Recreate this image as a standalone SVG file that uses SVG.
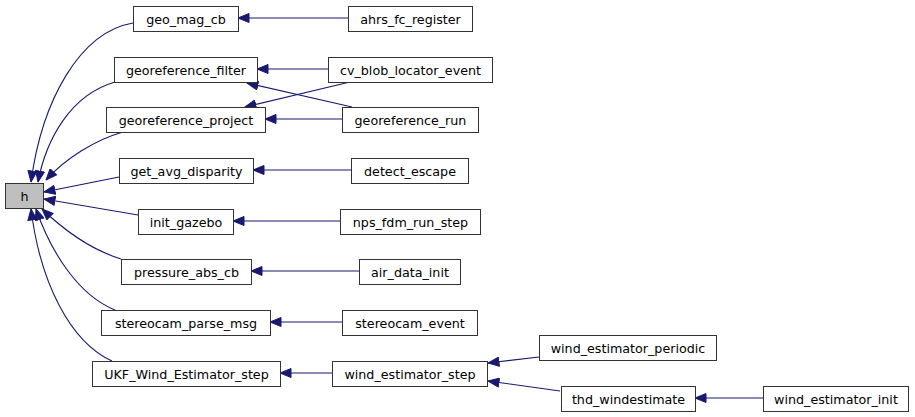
<svg xmlns="http://www.w3.org/2000/svg" width="915" height="417" viewBox="0 0 915 417">
<style>
.n rect{fill:#ffffff;stroke:#333333;stroke-width:1}
.n text{font-family:"DejaVu Sans",sans-serif;font-size:12.7px;text-anchor:middle;fill:#000000}
#edges path{fill:none;stroke:#191970;stroke-width:1.1;marker-end:url(#ah)}
</style>
<defs>
<marker id="ah" viewBox="0 0 12 10" refX="11.5" refY="5" markerWidth="12" markerHeight="10" markerUnits="userSpaceOnUse" orient="auto">
<path d="M0.5,0.5 L11.5,5 L0.5,9.5 Z" fill="#191970" stroke="#191970" stroke-width="1"/>
</marker>
</defs>
<rect width="915" height="417" fill="#ffffff"/>
<g id="edges">
<path d="M133,23 C80,32 42,100 31,182"/>
<path d="M115,82 C70,95 46,140 38,182"/>
<path d="M123,132 C95,140 66,158 46,180"/>
<path d="M119,177 L44,192"/>
<path d="M138,215 L44,199"/>
<path d="M121,259 C92,250 66,232 42,209"/>
<path d="M115,310 C80,296 52,255 36,209"/>
<path d="M112,361 C70,342 40,282 31,209"/>
<path d="M348,18 L238,18"/>
<path d="M328,69 L257,69"/>
<path d="M350,82 L245,107"/>
<path d="M352,107 L247,83"/>
<path d="M342,119 L265,119"/>
<path d="M351,170 L253,170"/>
<path d="M340,221 L233,221"/>
<path d="M359,271 L251,271"/>
<path d="M342,322 L270,322"/>
<path d="M332,373 L280,373"/>
<path d="M539,357 L488,363"/>
<path d="M560,391 L488,381"/>
<path d="M763,398 L695,398"/>
</g>
<g id="h" class="n"><rect x="5.5" y="183.5" width="38" height="25" style="fill:#bfbfbf"/><text x="24.5" y="200.5">h</text></g>
<g id="geo_mag_cb" class="n"><rect x="133.5" y="6.5" width="105" height="25"/><text x="186" y="23.5">geo_mag_cb</text></g>
<g id="georeference_filter" class="n"><rect x="114.5" y="57.5" width="143" height="25"/><text x="186" y="74.5">georeference_filter</text></g>
<g id="georeference_project" class="n"><rect x="106.5" y="107.5" width="159" height="25"/><text x="186" y="124.5">georeference_project</text></g>
<g id="get_avg_disparity" class="n"><rect x="119.5" y="158.5" width="134" height="25"/><text x="186.5" y="175.5">get_avg_disparity</text></g>
<g id="init_gazebo" class="n"><rect x="138.5" y="209.5" width="95" height="25"/><text x="186" y="226.5">init_gazebo</text></g>
<g id="pressure_abs_cb" class="n"><rect x="121.5" y="259.5" width="130" height="25"/><text x="186.5" y="276.5">pressure_abs_cb</text></g>
<g id="stereocam_parse_msg" class="n"><rect x="101.5" y="310.5" width="169" height="25"/><text x="186" y="327.5">stereocam_parse_msg</text></g>
<g id="UKF_Wind_Estimator_step" class="n"><rect x="92.5" y="361.5" width="188" height="25"/><text x="186.5" y="378.5">UKF_Wind_Estimator_step</text></g>
<g id="ahrs_fc_register" class="n"><rect x="348.5" y="6.5" width="124" height="25"/><text x="410.5" y="23.5">ahrs_fc_register</text></g>
<g id="cv_blob_locator_event" class="n"><rect x="328.5" y="57.5" width="164" height="25"/><text x="410.5" y="74.5">cv_blob_locator_event</text></g>
<g id="georeference_run" class="n"><rect x="342.5" y="107.5" width="136" height="25"/><text x="410.5" y="124.5">georeference_run</text></g>
<g id="detect_escape" class="n"><rect x="351.5" y="158.5" width="117" height="25"/><text x="410" y="175.5">detect_escape</text></g>
<g id="nps_fdm_run_step" class="n"><rect x="340.5" y="209.5" width="140" height="25"/><text x="410.5" y="226.5">nps_fdm_run_step</text></g>
<g id="air_data_init" class="n"><rect x="359.5" y="259.5" width="101" height="25"/><text x="410" y="276.5">air_data_init</text></g>
<g id="stereocam_event" class="n"><rect x="342.5" y="310.5" width="135" height="25"/><text x="410" y="327.5">stereocam_event</text></g>
<g id="wind_estimator_step" class="n"><rect x="332.5" y="361.5" width="155" height="25"/><text x="410" y="378.5">wind_estimator_step</text></g>
<g id="wind_estimator_periodic" class="n"><rect x="539.5" y="335.5" width="177" height="25"/><text x="628" y="352.5">wind_estimator_periodic</text></g>
<g id="thd_windestimate" class="n"><rect x="561.5" y="386.5" width="134" height="25"/><text x="628.5" y="403.5">thd_windestimate</text></g>
<g id="wind_estimator_init" class="n"><rect x="763.5" y="386.5" width="145" height="25"/><text x="836" y="403.5">wind_estimator_init</text></g>
</svg>
